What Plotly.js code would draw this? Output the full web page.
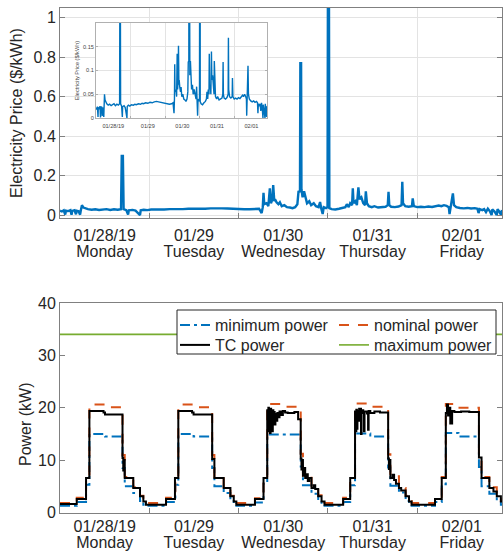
<!DOCTYPE html>
<html>
<head>
<meta charset="utf-8">
<script src="https://cdn.plot.ly/plotly-3.0.1.min.js"></script>
<style>html,body{margin:0;padding:0;background:#fff;overflow:hidden}#chart{width:503px;height:552px}</style>
</head>
<body>
<div id="chart"></div>
<script>
// ---- data (hours since 01/28/19 00:00) ----
const dayTicks = [12, 36, 60, 84, 108];
const dateLabels = ['01/28/19', '01/29', '01/30', '01/31', '02/01'];
const dayNames = ['Monday', 'Tuesday', 'Wednesday', 'Thursday', 'Friday'];
const midnightTicks = [24, 48, 72, 96];

const priceHours = [0.0,0.5,1.0,1.4,1.6,2.2,2.8,3.1,3.3,3.9,4.3,4.5,5.0,5.4,5.6,5.9,6.3,6.8,7.5,8.5,9.5,10.5,11.5,12.5,13.5,14.5,15.5,16.4,16.6,16.9,17.1,17.8,18.3,18.5,19.5,20.3,21.5,21.7,22.5,23.5,24.5,26,27,28,29.5,31,32,33,34.5,36,37.5,39,40.5,42,43.5,45,46.5,48,49.5,51,52.5,53.5,54.2,54.5,54.7,54.9,55.5,56.0,56.4,56.7,57.1,57.3,57.6,57.8,58.2,58.7,59.1,59.6,60.3,61,61.8,62.5,63.2,63.8,64.1,64.5,64.6,64.8,64.9,65.2,65.6,66.0,66.4,67.0,67.5,68.2,68.8,69.5,69.9,70.2,70.6,70.9,71.5,71.9,72.0,72.3,72.4,73.0,74.0,75.0,76.0,76.7,77.1,77.6,78.0,78.5,78.7,78.9,79.4,79.8,80.2,80.5,81.0,81.5,82.0,82.2,82.5,83.0,83.8,84.5,85.5,86.5,87.5,88.1,88.3,88.5,89.0,90.0,91.0,91.8,92.0,92.2,92.8,93.7,94.6,94.8,95.1,96.0,97.0,98.0,99.0,100.0,101.0,101.8,102.5,103.2,103.9,104.5,104.7,105.0,105.6,105.9,106.5,107.5,108.5,109.5,110.5,111.5,112.2,112.5,112.8,113.5,114.0,114.5,115.0,115.5,116.0,116.2,116.8,117.4,117.6,118.0,118.5,118.8];
const priceValues = [0.022,0.018,0.024,0.002,0.022,0.020,0.025,0.001,0.021,0.024,0.004,0.022,0.019,0.002,0.024,0.050,0.038,0.033,0.030,0.027,0.029,0.026,0.028,0.030,0.026,0.029,0.027,0.030,0.300,0.300,0.030,0.025,0.002,0.024,0.026,0.022,0.000,0.024,0.027,0.025,0.028,0.027,0.029,0.028,0.030,0.029,0.031,0.030,0.032,0.031,0.033,0.032,0.034,0.035,0.034,0.033,0.031,0.030,0.029,0.029,0.030,0.032,0.010,0.040,0.113,0.055,0.060,0.045,0.135,0.060,0.080,0.152,0.070,0.080,0.065,0.055,0.065,0.045,0.050,0.040,0.038,0.035,0.040,0.055,0.118,0.120,0.770,0.770,0.130,0.090,0.120,0.080,0.060,0.070,0.050,0.060,0.045,0.040,0.066,0.035,0.005,0.040,0.035,0.040,1.050,1.050,0.035,0.030,0.028,0.032,0.035,0.040,0.055,0.040,0.060,0.050,0.135,0.060,0.070,0.050,0.140,0.080,0.090,0.060,0.050,0.120,0.060,0.045,0.040,0.045,0.038,0.040,0.042,0.050,0.118,0.050,0.042,0.040,0.043,0.050,0.169,0.060,0.045,0.042,0.045,0.084,0.045,0.040,0.042,0.040,0.043,0.041,0.044,0.048,0.045,0.050,0.046,0.040,0.005,0.045,0.110,0.050,0.040,0.036,0.034,0.036,0.033,0.035,0.032,0.010,0.030,0.025,0.030,0.015,0.032,0.020,0.000,0.028,0.018,0.000,0.030,0.020,0.002,0.025];

const powerHours = [0,4.5,7.0,7.9,12.1,16.8,17.4,19.7,21.5,22.4,23.1,
  28.5,31.0,31.8,35.9,40.9,41.5,44.0,45.8,46.7,47.4,
  52.4,54.7,55.7,59.5,64.7,65.3,67.6,69.4,70.3,71.1,
  76.1,78.0,79.3,83.4,88.2,88.8,91.1,92.9,93.8,94.5,
  100.8,102.6,103.7,107.1,112.6,113.3,115.4,117.4,118.5,118.8];
const minPower = [1.3,2.0,5.3,15.0,14.5,8.5,5.0,3.7,2.2,1.5,1.3,
  2.0,5.3,15.0,14.5,8.5,5.0,3.7,2.2,1.5,1.3,
  1.9,5.5,14.9,14.9,8.8,5.2,3.6,2.3,1.5,1.3,
  2.0,5.2,15.1,14.5,8.6,5.1,3.8,2.2,1.5,1.3,
  2.0,5.4,15.2,14.5,8.7,5.0,3.6,2.2,1.5,1.5];
const nominalPower = [1.8,2.8,6.8,20.6,20.1,11.0,6.8,4.8,3.2,2.2,1.8,
  2.8,6.8,20.6,20.1,11.0,6.8,4.8,3.2,2.2,1.8,
  2.7,6.9,20.7,20.2,11.2,7.0,4.9,3.3,2.3,1.8,
  2.8,6.7,20.8,20.2,11.1,6.9,4.7,3.2,2.2,1.8,
  2.8,6.8,20.7,20.0,11.0,6.8,4.8,3.2,2.2,2.2];

const tcHours = [0,4.5,7.0,7.9,11.7,12.1,16.8,17.0,17.2,17.4,19.7,21.5,22.4,23.1,
  28.5,30.9,31.8,35.5,35.9,40.9,41.5,44.0,45.8,46.7,47.4,
  52.4,54.7,55.7,55.9,56.0,56.15,56.3,56.45,56.6,56.75,56.9,57.05,57.2,57.35,57.5,57.7,57.9,58.1,58.4,58.7,59.0,59.5,59.9,60.5,61.2,63.0,64.0,64.7,64.9,65.1,65.3,65.6,65.9,66.3,66.6,67.0,67.6,68.2,68.6,69.4,70.3,71.1,
  76.1,78.0,79.3,79.5,79.65,79.8,79.95,80.1,80.4,80.9,81.05,81.5,81.7,81.85,82.5,82.8,82.95,83.4,84.5,86.0,88.2,88.4,88.6,88.8,89.4,89.8,90.3,91.1,91.7,92.9,93.8,94.5,
  100.8,102.6,103.7,104.0,104.3,104.6,104.9,105.4,106.0,107.8,110.0,112.6,113.3,115.4,116.5,117.4,118.5,118.8];
const tcPower = [1.6,2.6,6.6,19.4,19.1,18.7,10.4,8.0,10.0,6.6,4.7,3.1,2.1,1.5,
  2.6,6.6,19.4,19.1,18.7,10.2,6.6,4.7,3.1,2.1,1.5,
  2.6,6.6,19.5,15.5,20.0,16.0,19.5,15.2,19.8,16.5,19.0,15.5,19.5,17.0,19.2,16.8,18.8,17.5,19.0,18.2,19.3,18.6,19.4,19.1,19.0,19.2,17.8,10.3,8.2,10.0,7.0,8.5,6.6,7.3,6.0,6.6,4.7,5.2,4.5,3.1,2.1,1.5,
  2.6,6.6,19.3,15.5,19.6,16.0,19.4,17.5,19.8,15.0,19.5,19.0,15.5,19.3,18.9,15.8,19.4,19.0,19.3,19.1,10.3,8.3,10.0,6.6,7.2,6.2,5.5,4.7,4.2,3.1,2.1,1.5,
  2.6,6.6,19.0,20.6,18.5,20.0,17.0,19.4,19.2,19.3,19.2,10.5,6.6,4.7,4.0,3.1,2.1,2.1];

const maxHours = [0, 118.8];
const maxPower = [34.0, 34.0];

// ---- styling ----
const FONT = 'Liberation Sans, Arial, Helvetica, sans-serif';
const TXT = '#262626';
const AX = '#808080';
const GRID = '#e3e3e3';
const BLUE = '#0072BD', ORANGE = '#D95319', GREEN = '#77AC30';
const XR = [0, 118.8];
const W = 503, H = 552;
const px = v => v / W, py = v => 1 - v / H;

function dateAxis(anchor, grid, standoff) {
  return {
    domain: [px(60), px(502)], anchor: anchor, range: XR, tickmode: 'array',
    tickvals: dayTicks, ticktext: dateLabels, ticks: '', showgrid: false, zeroline: false,
    showline: true, linecolor: AX, linewidth: 1, mirror: true, ticklabelstandoff: standoff,
    tickfont: {family: FONT, size: 16, color: TXT},
    minor: {tickmode: 'array', tickvals: midnightTicks, ticks: 'inside', ticklen: 5,
            tickcolor: AX, showgrid: grid, gridcolor: GRID, gridwidth: 1}
  };
}
function dayAxis(over, anchor, standoff) {
  return {
    overlaying: over, anchor: anchor, side: 'bottom', range: XR, tickmode: 'array',
    tickvals: dayTicks, ticktext: dayNames, ticks: '', showgrid: false, zeroline: false,
    showline: false, ticklabelstandoff: standoff,
    tickfont: {family: FONT, size: 16, color: TXT}
  };
}
function legendAt(x, y) {
  return {
    orientation: 'v', x: px(x), y: py(y), xanchor: 'left', yanchor: 'top',
    bgcolor: 'rgba(0,0,0,0)', borderwidth: 0,
    font: {family: FONT, size: 16, color: TXT}, itemclick: false
  };
}

const traces = [
  {x: priceHours, y: priceValues, xaxis: 'x', yaxis: 'y', type: 'scatter', mode: 'lines',
   line: {color: BLUE, width: 2.4}, showlegend: false, hoverinfo: 'skip'},
  {x: powerHours, y: minPower, xaxis: 'x2', yaxis: 'y2', type: 'scatter', mode: 'lines', name: 'minimum power',
   line: {color: BLUE, width: 2, shape: 'hv', dash: '10px,4px,3px,4px'}, legend: 'legend'},
  {x: powerHours, y: nominalPower, xaxis: 'x2', yaxis: 'y2', type: 'scatter', mode: 'lines', name: 'nominal power',
   line: {color: ORANGE, width: 2, shape: 'hv', dash: '10px,9px'}, legend: 'legend2'},
  {x: tcHours, y: tcPower, xaxis: 'x2', yaxis: 'y2', type: 'scatter', mode: 'lines', name: 'TC power',
   line: {color: '#000000', width: 2, shape: 'hv'}, legend: 'legend3'},
  {x: maxHours, y: maxPower, xaxis: 'x2', yaxis: 'y2', type: 'scatter', mode: 'lines', name: 'maximum power',
   line: {color: GREEN, width: 1.6}, legend: 'legend4'},
  {x: priceHours, y: priceValues, xaxis: 'x3', yaxis: 'y3', type: 'scatter', mode: 'lines',
   line: {color: BLUE, width: 1.4}, showlegend: false, hoverinfo: 'skip'},
  {x: [], y: [], xaxis: 'x4', yaxis: 'y', type: 'scatter', mode: 'lines', showlegend: false, hoverinfo: 'skip'},
  {x: [], y: [], xaxis: 'x5', yaxis: 'y2', type: 'scatter', mode: 'lines', showlegend: false, hoverinfo: 'skip'}
];

const layout = {
  width: W, height: H, margin: {l: 0, r: 0, t: 0, b: 0},
  paper_bgcolor: '#ffffff', plot_bgcolor: '#ffffff',
  font: {family: FONT, color: TXT, size: 16},
  xaxis: dateAxis('y', true, 3),
  xaxis4: dayAxis('x', 'y', 22),
  yaxis: {
    domain: [py(218), py(8)], anchor: 'x', range: [-0.015, 1.05],
    tickmode: 'array', tickvals: [0, 0.2, 0.4, 0.6, 0.8, 1], ticktext: ['0', '0.2', '0.4', '0.6', '0.8', '1'],
    ticks: 'inside', ticklen: 5, tickcolor: AX, showline: true, linecolor: AX, linewidth: 1, mirror: 'ticks',
    showgrid: true, gridcolor: GRID, zeroline: false,
    tickfont: {family: FONT, size: 16, color: TXT},
    title: {text: 'Electricity Price ($/kWh)', font: {family: FONT, size: 16, color: TXT}, standoff: 6}
  },
  xaxis2: dateAxis('y2', false, -1),
  xaxis5: dayAxis('x2', 'y2', 18),
  yaxis2: {
    domain: [py(512.5), py(303)], anchor: 'x2', range: [0, 40],
    tickmode: 'array', tickvals: [0, 10, 20, 30, 40],
    ticks: 'inside', ticklen: 5, tickcolor: AX, showline: true, linecolor: AX, linewidth: 1, mirror: 'ticks',
    showgrid: false, zeroline: false,
    tickfont: {family: FONT, size: 16, color: TXT}
  },
  xaxis3: {
    domain: [px(96), px(267)], anchor: 'y3', range: XR, tickmode: 'array',
    tickvals: dayTicks, ticktext: dateLabels, ticks: '', showgrid: false, zeroline: false,
    showline: true, linecolor: '#b0b0b0', linewidth: 1, mirror: true, ticklabelstandoff: 2,
    tickfont: {family: FONT, size: 5.6, color: '#444'},
    minor: {tickmode: 'array', tickvals: midnightTicks, ticks: 'inside', ticklen: 2,
            tickcolor: '#b0b0b0', showgrid: true, gridcolor: GRID}
  },
  yaxis3: {
    domain: [py(118), py(23)], anchor: 'x3', range: [0, 0.2],
    tickmode: 'array', tickvals: [0, 0.05, 0.1, 0.15], ticktext: ['0', '0.05', '0.1', '0.15'],
    ticks: 'inside', ticklen: 2, tickcolor: '#b0b0b0', showline: true, linecolor: '#b0b0b0', linewidth: 1, mirror: 'ticks',
    showgrid: true, gridcolor: GRID, zeroline: false,
    tickfont: {family: FONT, size: 5.6, color: '#444'},
    title: {text: 'Electricity Price ($/kWh)', font: {family: FONT, size: 5.6, color: '#444'}, standoff: 3}
  },
  annotations: [{text: 'Power (kW)', textangle: -90, xref: 'paper', yref: 'paper', x: px(25), y: py(424),
                 xanchor: 'center', yanchor: 'middle', showarrow: false,
                 font: {family: FONT, size: 16, color: TXT}}],
  legend: legendAt(175, 308),
  legend2: legendAt(334, 308),
  legend3: legendAt(175, 328),
  legend4: legendAt(334, 328),
  shapes: [{type: 'rect', xref: 'paper', yref: 'paper', x0: px(177), x1: px(496), y0: py(354), y1: py(310),
            line: {color: '#262626', width: 1}, fillcolor: '#ffffff', layer: 'above'}],
  showlegend: true
};

Plotly.newPlot('chart', traces, layout, {staticPlot: true, displayModeBar: false});
</script>
</body>
</html>
